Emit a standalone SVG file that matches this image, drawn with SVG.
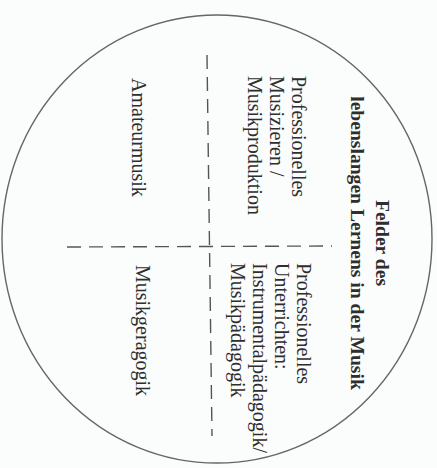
<svg xmlns="http://www.w3.org/2000/svg" width="437" height="468" viewBox="0 0 437 468">
<style>
.t{font-family:"Liberation Serif","Times New Roman",serif;font-size:20px;fill:#2e2e2e}
.b{font-weight:bold;text-anchor:middle;font-size:19.6px}
.d{stroke:#555;stroke-width:1.4;stroke-dasharray:14 8;fill:none}
</style>
<rect width="437" height="468" fill="#fbfcfc"/>
<g id="frame">
<ellipse cx="217" cy="239" rx="215" ry="224" fill="none" stroke="#666" stroke-width="1.4"/>
</g>
<g id="connectors">
<line class="d" x1="207" y1="55" x2="212" y2="436"/>
<line class="d" x1="67" y1="247" x2="332" y2="246"/>
</g>
<g id="title">
<text class="t b" transform="translate(376,243) rotate(90)"><tspan x="0" y="0">Felder des</tspan><tspan x="0" dy="25">lebenslangen Lernens in der Musik</tspan></text>
</g>
<g id="profMusizieren">
<text class="t" transform="translate(292,76) rotate(90)"><tspan x="0" y="0">Professionelles</tspan><tspan x="0" dy="22">Musizieren /</tspan><tspan x="0" dy="22">Musikproduktion</tspan></text>
</g>
<g id="profUnterrichten">
<text class="t" transform="translate(297,263) rotate(90)"><tspan x="0" y="0">Professionelles</tspan><tspan x="0" dy="22">Unterrichten:</tspan><tspan x="0" dy="22">Instrumentalpädagogik/</tspan><tspan x="0" dy="22">Musikpädagogik</tspan></text>
</g>
<g id="amateur">
<text class="t" transform="translate(132,78) rotate(90)">Amateurmusik</text>
</g>
<g id="geragogik">
<text class="t" transform="translate(136,265) rotate(90)">Musikgeragogik</text>
</g>
</svg>
